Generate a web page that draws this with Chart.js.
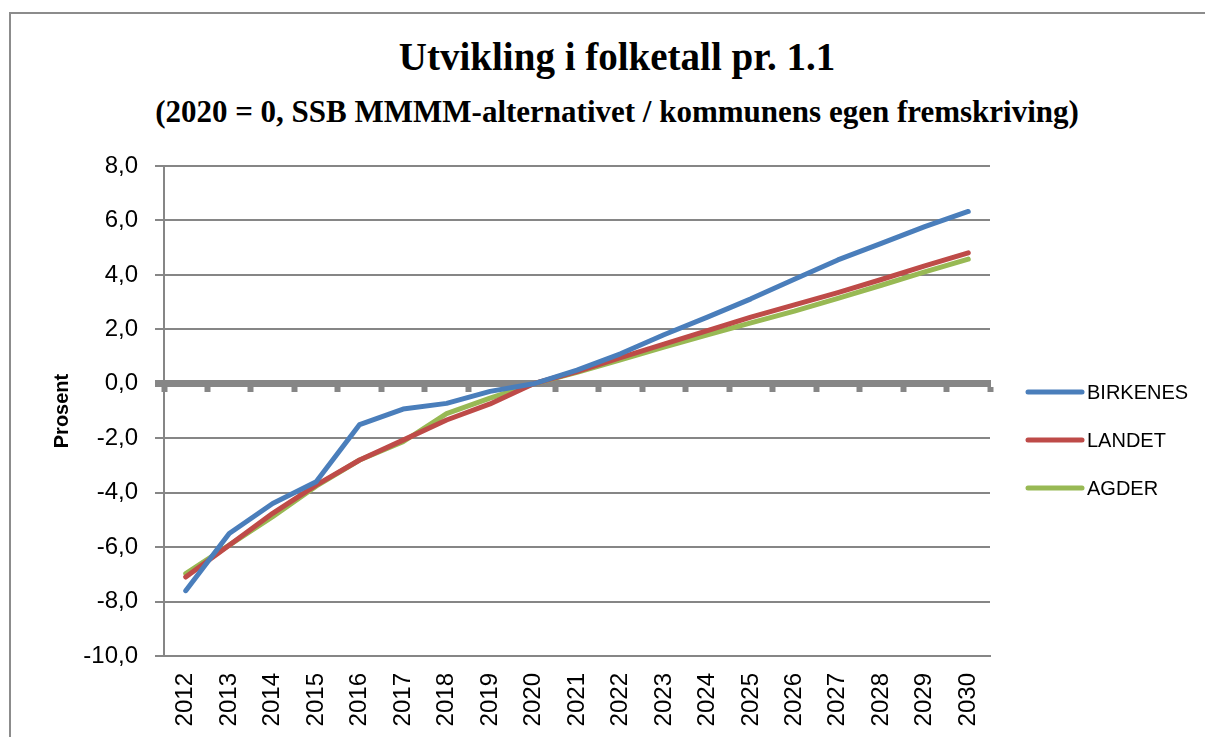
<!DOCTYPE html>
<html>
<head>
<meta charset="utf-8">
<script src="https://cdn.jsdelivr.net/npm/chart.js@4/dist/chart.umd.min.js"></script>
<style>
    html, body { margin: 0; padding: 0; background: #fff; overflow: hidden; }
    #wrap { position: relative; width: 1205px; height: 737px; overflow: hidden; }
    #frame { position: absolute; left: 9px; top: 12px; width: 1300px; height: 800px; border: 2px solid #8c8c8c; }
    #chart { position: absolute; left: 0; top: 0; }
    .ttl { position: absolute; left: 0; width: 1234px; text-align: center; color: #000; white-space: nowrap;
           font-family: 'Liberation Serif', 'DejaVu Serif', serif; font-weight: bold; }
    #title { top: 34px; font-size: 39px; line-height: 46px; }
    #subtitle { top: 94px; font-size: 31px; line-height: 36px; }
</style>
</head>
<body>
<div id="wrap">
    <div id="frame"></div>
    <div class="ttl" id="title"></div>
    <div class="ttl" id="subtitle"></div>
    <canvas id="chart" width="1205" height="737"></canvas>
</div>
<script>
// data
const years = ['2012', '2013', '2014', '2015', '2016', '2017', '2018', '2019', '2020', '2021',
    '2022', '2023', '2024', '2025', '2026', '2027', '2028', '2029', '2030'];
const seriesNames = ['BIRKENES', 'LANDET', 'AGDER'];
const birkenes = [-7.6, -5.5, -4.4, -3.6, -1.5, -0.93, -0.72, -0.28, 0, 0.5,
    1.1, 1.8, 2.45, 3.12, 3.84, 4.55, 5.16, 5.77, 6.33];
const landet = [-7.1, -5.93, -4.76, -3.72, -2.8, -2.07, -1.33, -0.74, 0, 0.45,
    0.96, 1.46, 1.95, 2.45, 2.9, 3.35, 3.83, 4.33, 4.81];
const agder = [-6.97, -5.93, -4.88, -3.76, -2.8, -2.13, -1.1, -0.53, 0, 0.42,
    0.88, 1.35, 1.8, 2.24, 2.67, 3.14, 3.62, 4.11, 4.58];
const yMin = -10, yMax = 8, yStep = 2;

const titleText = 'Utvikling i folketall pr. 1.1';
const subtitleText = '(2020 = 0, SSB MMMM-alternativet / kommunens egen fremskriving)';
const yTitle = 'Prosent';

const colors = ['#4a7ebb', '#be4b48', '#98b954'];
const gray = '#868686';

document.getElementById('title').textContent = titleText;
document.getElementById('subtitle').textContent = subtitleText;

Chart.defaults.font.family = "'Liberation Sans', Arial, sans-serif";
Chart.defaults.color = '#000';

// legend til hoyre, tegnet selv
const sideLegend = {
    id: 'sideLegend',
    afterDraw(chart) {
        const ctx = chart.ctx;
        const x0 = chart.chartArea.right + 38;
        ctx.save();
        chart.data.datasets.forEach(function (ds, i) {
            const y = 392 + i * 48;
            ctx.strokeStyle = ds.borderColor;
            ctx.lineWidth = 5;
            ctx.lineCap = 'round';
            ctx.beginPath();
            ctx.moveTo(x0, y);
            ctx.lineTo(x0 + 54, y);
            ctx.stroke();
            ctx.fillStyle = '#000';
            ctx.font = "20px 'Liberation Sans', Arial, sans-serif";
            ctx.textBaseline = 'middle';
            ctx.fillText(ds.label, x0 + 59, y + 1);
        });
        ctx.restore();
    }
};

function makeSet(name, values, color) {
    return {
        label: name,
        data: values,
        borderColor: color,
        backgroundColor: color,
        borderWidth: 5,
        borderCapStyle: 'round',
        borderJoinStyle: 'round',
        pointRadius: 0,
        tension: 0,
        xAxisID: 'x'
    };
}

new Chart(document.getElementById('chart'), {
    type: 'line',
    data: {
        labels: years,
        datasets: [
            makeSet(seriesNames[0], birkenes, colors[0]),
            makeSet(seriesNames[1], landet, colors[1]),
            makeSet(seriesNames[2], agder, colors[2])
        ]
    },
    options: {
        responsive: false,
        animation: false,
        layout: { padding: { top: 166, left: 30, right: 215, bottom: 0 } },
        plugins: {
            legend: { display: false },
            tooltip: { enabled: false }
        },
        scales: {
            x: {
                type: 'category',
                offset: true,
                grid: { drawOnChartArea: false, drawTicks: false },
                border: { display: true, color: gray, width: 2 },
                ticks: { minRotation: 90, maxRotation: 90, padding: 17, font: { size: 24 }, color: '#000' },
                afterFit: function (scale) { scale.height = 81; }
            },
            x2: {
                type: 'category',
                position: { y: 0 },
                offset: true,
                grid: { drawOnChartArea: false, offset: true, tickLength: 5, tickWidth: 6, tickColor: gray },
                border: { display: true, color: gray, width: 7 },
                ticks: { display: false }
            },
            y: {
                min: yMin,
                max: yMax,
                ticks: {
                    stepSize: yStep,
                    padding: 17,
                    font: { size: 24 },
                    color: '#000',
                    callback: function (v) { return v.toFixed(1).replace('.', ','); }
                },
                grid: {
                    color: gray,
                    lineWidth: function (c) { return c.tick && c.tick.value === 0 ? 7 : 2; },
                    tickLength: 9,
                    tickWidth: function (c) { return c.tick && c.tick.value === 0 ? 7 : 2; },
                    tickColor: gray
                },
                border: { display: true, color: gray, width: 2 },
                title: {
                    display: true,
                    text: yTitle,
                    color: '#000',
                    font: { size: 20, weight: 'bold' },
                    padding: { top: 20, bottom: 0 }
                },
                afterFit: function (scale) { scale.width = 134; }
            }
        }
    },
    plugins: [sideLegend]
});
</script>
</body>
</html>
